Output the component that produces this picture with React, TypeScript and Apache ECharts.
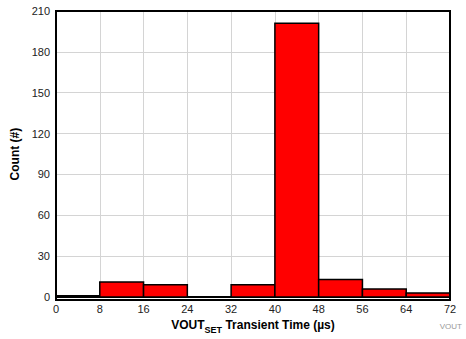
import React, { useEffect, useRef } from "react";
import * as echarts from "echarts";

// Histogram bins (µs) and counts
const binStarts = [0, 8, 16, 24, 32, 40, 48, 56, 64];
const binWidth = 8;
const counts = [1, 11, 9, 0, 9, 201, 13, 6, 3];
const yTicks = [0, 30, 60, 90, 120, 150, 180, 210];
const xTicks = [0, 8, 16, 24, 32, 40, 48, 56, 64, 72];

const FONT = "'Liberation Sans', Arial, Helvetica, sans-serif";

export default function App() {
  const ref = useRef<HTMLDivElement>(null);

  useEffect(() => {
    if (!ref.current) return;
    const chart = echarts.init(ref.current, undefined, { renderer: "svg" });
    const data = binStarts.map((s, i) => [s, s + binWidth, counts[i]]);

    chart.setOption({
      animation: false,
      backgroundColor: "#ffffff",
      grid: { left: 56, right: 16, top: 11, bottom: 39, containLabel: false },
      xAxis: {
        type: "value",
        min: xTicks[0],
        max: xTicks[xTicks.length - 1],
        interval: 8,
        name: "{b|VOUT}{s|SET}{b| Transient Time (µs)}",
        nameLocation: "middle",
        nameGap: 17,
        nameTextStyle: {
          rich: {
            b: { fontFamily: FONT, fontSize: 12, fontWeight: "bold", color: "#000", lineHeight: 14, verticalAlign: "bottom" },
            s: { fontFamily: FONT, fontSize: 9, fontWeight: "bold", color: "#000", lineHeight: 14, verticalAlign: "bottom", padding: [0, 0, -3, 0] },
          },
        },
        axisLine: { show: true, onZero: false, lineStyle: { color: "#000", width: 2 } },
        axisTick: { show: false },
        axisLabel: { fontFamily: FONT, fontSize: 11, color: "#222", margin: 6 },
        splitLine: { show: true, lineStyle: { color: "#d4d4d4", width: 1 } },
      },
      yAxis: {
        type: "value",
        min: 0,
        max: yTicks[yTicks.length - 1],
        interval: 30,
        name: "Count (#)",
        nameLocation: "middle",
        nameGap: 33,
        nameTextStyle: { fontFamily: FONT, fontSize: 12, fontWeight: "bold", color: "#000" },
        axisLine: { show: true, lineStyle: { color: "#000", width: 2 } },
        axisTick: { show: false },
        axisLabel: { fontFamily: FONT, fontSize: 11, color: "#222", margin: 6 },
        splitLine: { show: true, lineStyle: { color: "#d4d4d4", width: 1 } },
      },
      graphic: [
        {
          type: "rect",
          shape: { x: 56, y: 11, width: 394, height: 289 },
          style: { fill: "none", stroke: "#000", lineWidth: 2 },
          silent: true,
          z: 10,
        },
        {
          type: "text",
          right: 4,
          bottom: 9,
          style: { text: "VOUT", fontFamily: FONT, fontSize: 8, fill: "#999" },
        },
      ],
      series: [
        {
          type: "custom",
          data,
          encode: { x: [0, 1], y: 2 },
          renderItem: (params: any, api: any) => {
            if (api.value(2) <= 0) return null;
            const p0 = api.coord([api.value(0), api.value(2)]);
            const p1 = api.coord([api.value(1), 0]);
            return {
              type: "rect",
              shape: { x: p0[0], y: p0[1], width: p1[0] - p0[0], height: p1[1] - p0[1] },
              style: { fill: "#ff0000", stroke: "#000", lineWidth: 1.5 },
            };
          },
          z: 5,
        },
      ],
    });

    return () => chart.dispose();
  }, []);

  return <div ref={ref} style={{ width: 466, height: 339, position: "absolute", left: 0, top: 0 }} />;
}
